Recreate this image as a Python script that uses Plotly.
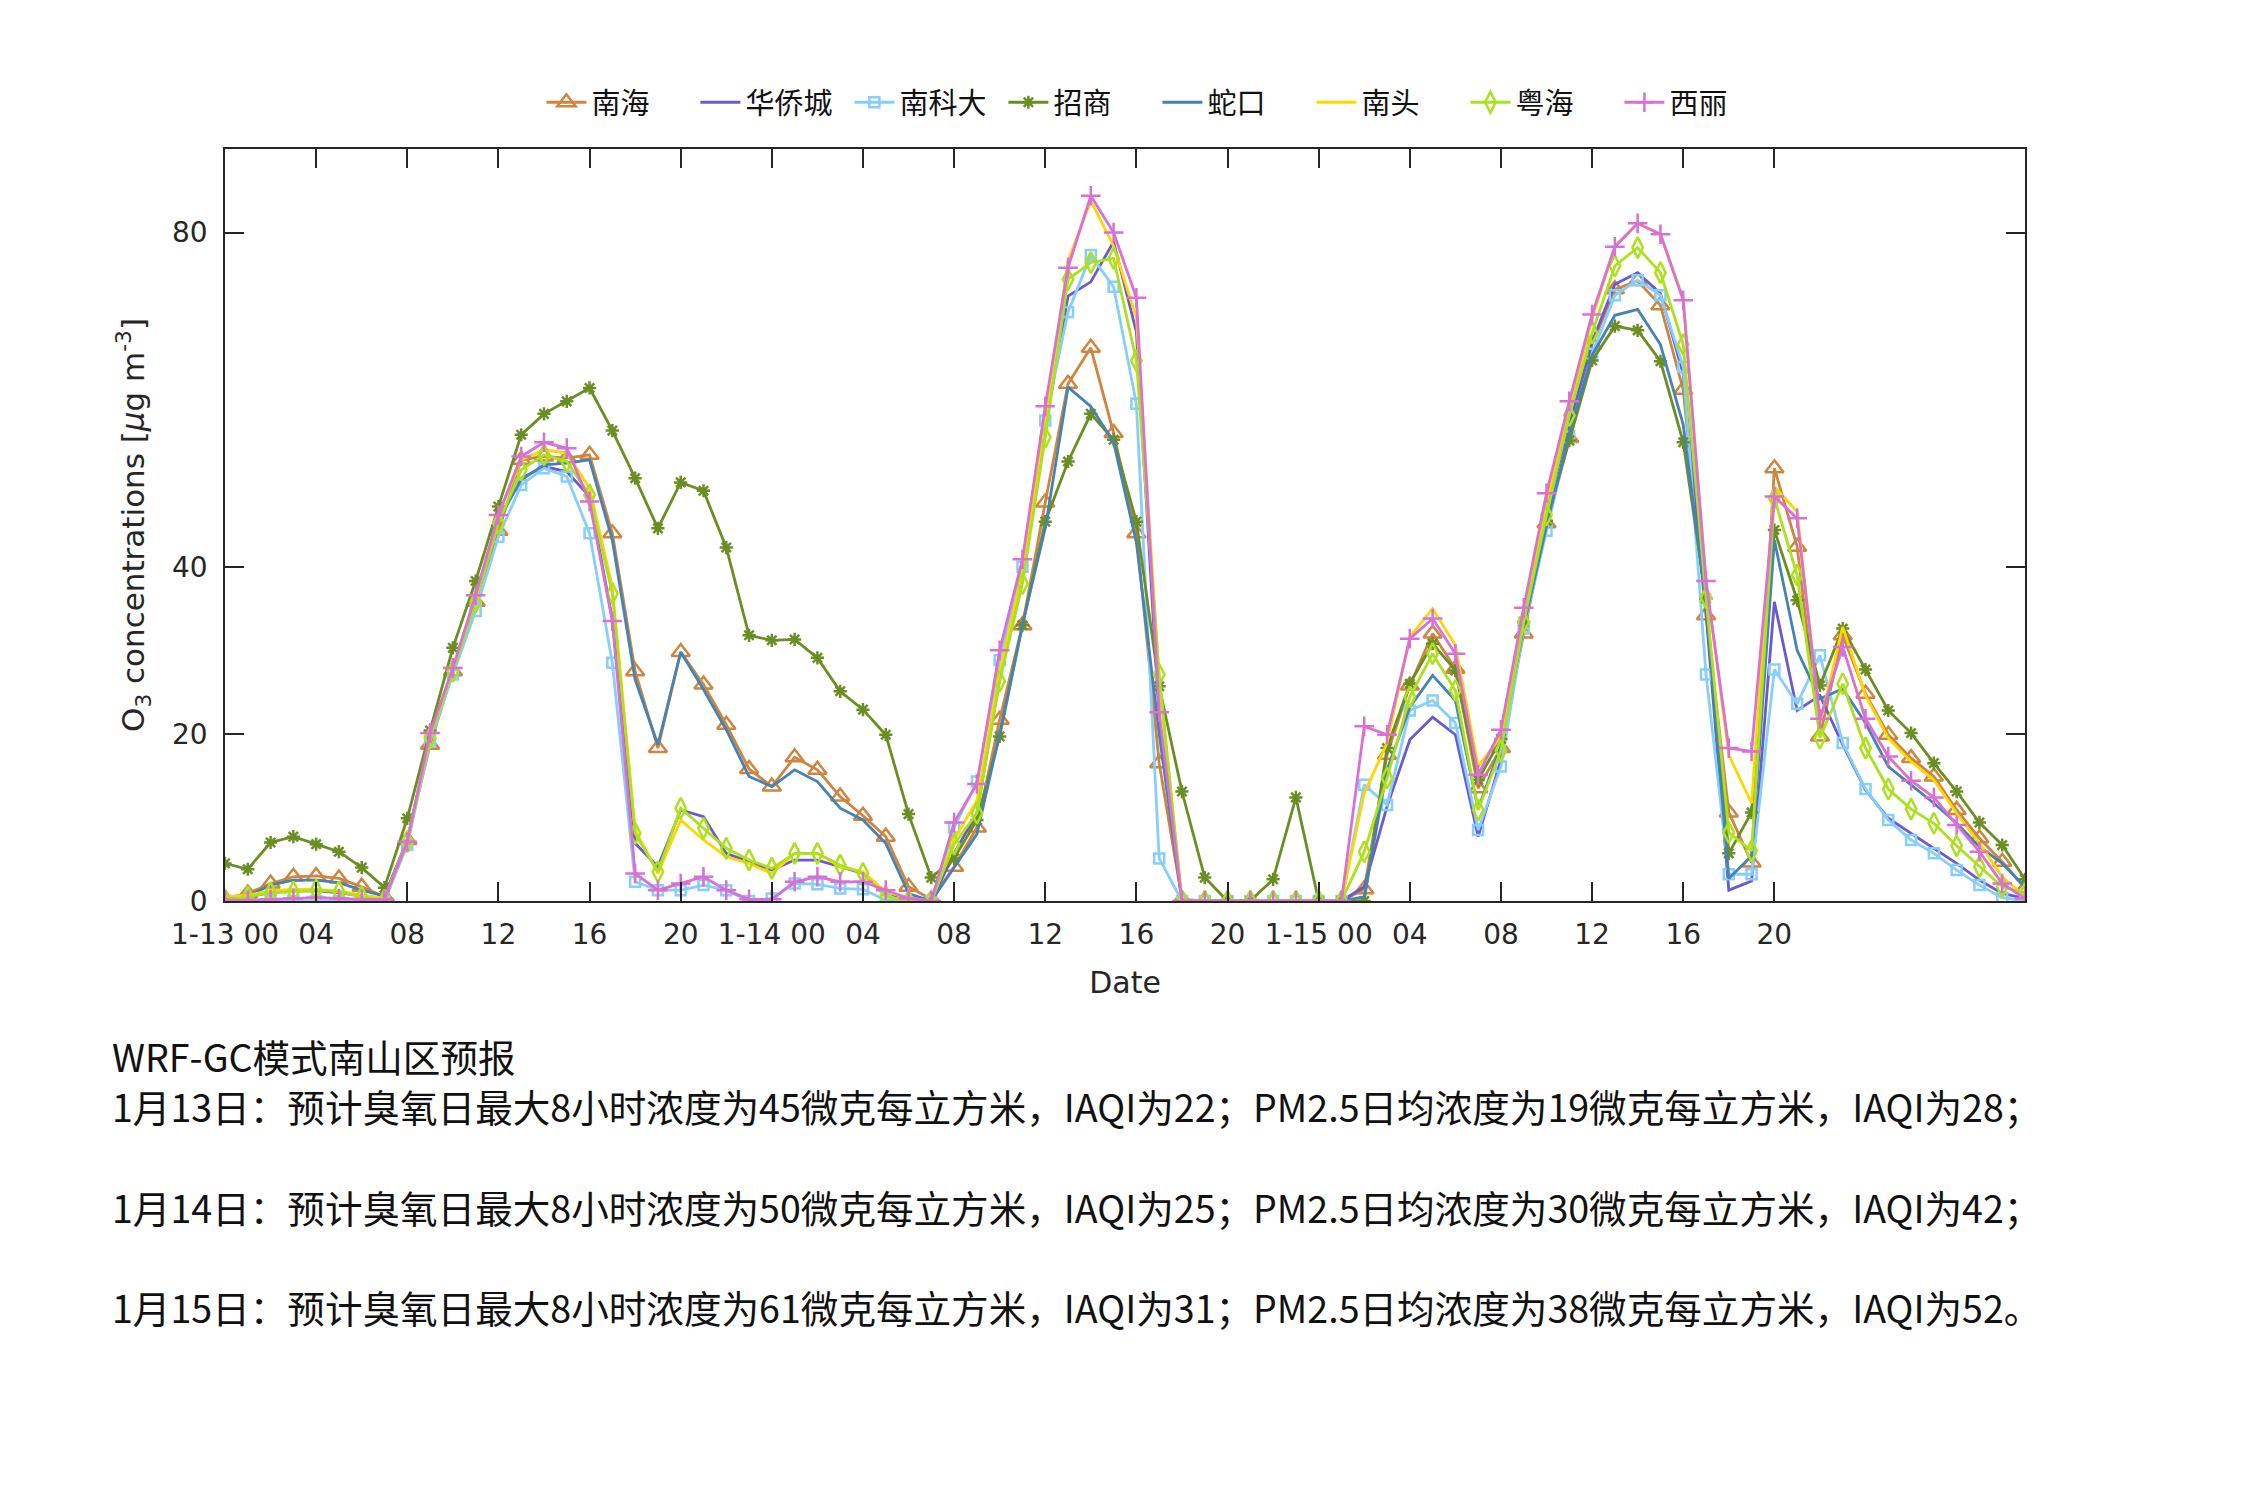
import plotly.graph_objects as go

# hours since 1-13 00:00 (hourly model output)
hours = list(range(80))

tick_hours = [0, 4, 8, 12, 16, 20, 24, 28, 32, 36, 40, 44, 48, 52, 56, 60, 64, 68]
tick_labels = ["1-13 00", "04", "08", "12", "16", "20",
               "1-14 00", "04", "08", "12", "16", "20",
               "1-15 00", "04", "08", "12", "16", "20"]
y_ticks = [0, 20, 40, 80]

station_names = ["南海", "华侨城", "南科大", "招商", "蛇口", "南头", "粤海", "西丽"]

nanhai = [
    0.3, 0.9, 2.1, 2.9, 3.0, 2.7, 1.7, 0.5,
    7.3, 18.7, 27.5, 35.8, 44.3, 52.8, 53.2, 53.0,
    53.4, 44.0, 27.5, 18.3, 29.8, 25.9, 21.1, 15.8,
    13.7, 17.2, 15.7, 12.5, 10.2, 7.7, 1.7, 0.2,
    4.1, 8.8, 21.7, 33.0, 47.7, 61.9, 66.2, 56.0,
    44.0, 16.5, 0.2, 0.0, 0.0, 0.0, 0.0, 0.0,
    0.0, 0.0, 1.4, 17.5, 25.8, 32.0, 27.8, 13.5,
    18.3, 32.0, 45.2, 55.4, 66.6, 73.2, 74.2, 71.3,
    61.2, 34.2, 10.6, 4.6, 51.8, 42.4, 19.7, 31.8,
    24.8, 19.9, 17.1, 14.9, 10.9, 7.5, 4.7, 1.5]

huaqiaocheng = [
    0.3, 0.5, 1.0, 1.2, 1.2, 1.0, 0.6, 0.3,
    7.0, 19.5, 27.5, 36.0, 45.6, 50.6, 52.0, 51.4,
    48.4, 33.7, 6.9, 4.1, 10.9, 10.1, 5.7, 4.7,
    3.7, 4.9, 4.9, 4.1, 3.3, 0.9, 0.3, 0.0,
    5.7, 10.5, 26.8, 39.0, 56.6, 72.4, 74.1, 78.9,
    68.1, 21.7, 0.0, 0.0, 0.0, 0.0, 0.0, 0.0,
    0.0, 0.0, 1.7, 11.3, 19.3, 22.0, 19.9, 7.7,
    16.9, 33.1, 46.6, 57.0, 66.9, 73.8, 75.2, 72.7,
    63.1, 34.5, 1.3, 2.4, 35.8, 22.8, 24.6, 18.7,
    13.3, 9.9, 8.1, 6.3, 4.5, 2.5, 0.9, 0.3]

nankeda = [
    0.1, 0.1, 0.1, 0.0, 0.0, 0.0, 0.0, 0.0,
    6.7, 19.1, 27.1, 34.7, 43.6, 49.8, 51.8, 50.8,
    44.0, 28.5, 2.3, 1.3, 1.3, 1.9, 1.3, 0.0,
    0.3, 2.1, 2.0, 1.5, 1.4, 0.1, 0.0, 0.0,
    8.8, 14.3, 28.8, 40.0, 57.5, 70.5, 77.3, 73.5,
    59.5, 5.1, 0.0, 0.0, 0.0, 0.0, 0.0, 0.0,
    0.0, 0.0, 13.9, 11.5, 22.8, 24.0, 21.3, 8.5,
    16.1, 32.6, 44.3, 55.6, 65.5, 72.5, 74.3, 72.5,
    63.9, 27.1, 3.2, 3.2, 27.7, 23.6, 29.4, 18.9,
    13.4, 9.7, 7.3, 5.7, 3.7, 1.9, 0.4, 0.0]

zhaoshang = [
    4.5, 3.8, 7.0, 7.7, 6.8, 5.9, 4.0, 1.6,
    9.9, 20.4, 30.3, 38.3, 47.2, 55.8, 58.3, 59.8,
    61.4, 56.3, 50.6, 44.6, 50.1, 49.1, 42.3, 31.8,
    31.2, 31.3, 29.1, 25.1, 22.9, 19.9, 10.4, 2.8,
    5.1, 9.7, 19.7, 33.0, 45.4, 52.6, 58.3, 55.2,
    45.4, 25.7, 13.1, 2.8, 0.0, 0.0, 2.6, 12.4,
    0.0, 0.0, 0.0, 18.3, 26.0, 30.8, 27.6, 14.5,
    19.4, 33.4, 45.5, 55.1, 64.7, 68.8, 68.3, 64.6,
    54.9, 36.2, 5.7, 10.6, 44.4, 36.0, 25.8, 32.6,
    27.7, 22.8, 20.1, 16.5, 13.1, 9.4, 6.7, 2.6]

shekou = [
    0.2, 0.6, 1.9, 2.5, 2.5, 2.2, 1.3, 0.6,
    7.3, 19.7, 27.7, 36.0, 45.6, 50.4, 52.2, 52.4,
    52.8, 43.2, 26.5, 18.7, 29.8, 25.3, 20.5, 14.9,
    13.7, 15.7, 14.3, 11.1, 9.7, 6.9, 0.9, 0.0,
    4.0, 8.0, 20.0, 33.1, 44.6, 61.5, 59.2, 54.9,
    42.9, 20.0, 0.0, 0.0, 0.0, 0.0, 0.0, 0.0,
    0.0, 0.0, 0.5, 15.7, 23.2, 27.0, 24.0, 11.0,
    18.6, 32.9, 44.9, 56.0, 65.3, 70.1, 70.8, 66.6,
    57.0, 35.6, 2.7, 5.4, 43.2, 30.0, 24.2, 25.4,
    21.3, 16.1, 13.9, 11.7, 9.3, 6.5, 4.5, 1.7]

nantou = [
    0.5, 0.7, 1.2, 1.4, 1.4, 1.2, 0.7, 0.3,
    7.2, 19.6, 27.8, 36.4, 46.2, 52.8, 54.0, 53.6,
    49.4, 37.6, 8.5, 3.3, 9.7, 7.3, 5.3, 4.5,
    3.3, 5.7, 5.7, 4.1, 3.5, 1.1, 0.3, 0.0,
    7.4, 12.0, 27.4, 39.4, 57.8, 76.6, 83.8, 78.4,
    69.8, 26.5, 0.0, 0.0, 0.0, 0.0, 0.0, 0.0,
    0.0, 0.0, 12.9, 18.9, 31.6, 35.0, 30.6, 16.1,
    19.7, 34.2, 47.7, 58.7, 69.7, 78.4, 81.1, 79.8,
    72.1, 38.4, 17.5, 11.7, 49.6, 46.6, 21.3, 32.8,
    24.6, 19.5, 16.7, 14.5, 10.5, 6.9, 2.9, 0.5]

yuehai = [
    0.1, 0.5, 1.0, 1.1, 1.3, 1.1, 0.5, 0.1,
    7.1, 19.5, 27.5, 35.8, 45.2, 51.6, 53.4, 52.6,
    48.6, 36.8, 8.1, 3.5, 11.1, 8.7, 6.3, 4.9,
    3.9, 5.7, 5.7, 4.3, 3.3, 0.5, 0.0, 0.0,
    6.8, 10.5, 26.3, 38.0, 55.5, 74.4, 76.4, 76.9,
    64.7, 27.1, 0.0, 0.0, 0.0, 0.0, 0.0, 0.0,
    0.0, 0.0, 5.9, 14.7, 24.4, 29.6, 25.2, 10.9,
    18.0, 33.4, 46.2, 58.1, 68.0, 76.0, 78.2, 75.2,
    66.6, 36.3, 8.2, 6.0, 48.2, 39.0, 19.5, 26.0,
    18.3, 13.4, 11.0, 9.3, 6.6, 4.1, 1.7, 0.9]

xili = [
    0.1, 0.1, 0.2, 0.3, 0.4, 0.3, 0.2, 0.2,
    7.1, 20.1, 27.9, 36.6, 46.2, 53.2, 54.9, 54.2,
    47.8, 33.5, 3.3, 1.3, 2.1, 2.9, 1.3, 0.2,
    0.2, 2.3, 2.9, 2.3, 2.3, 1.3, 0.3, 0.0,
    9.4, 14.0, 30.0, 40.9, 59.2, 75.8, 84.4, 80.0,
    72.2, 22.6, 0.0, 0.0, 0.0, 0.0, 0.0, 0.0,
    0.0, 0.0, 20.9, 19.9, 31.4, 33.8, 29.6, 15.1,
    20.5, 35.1, 48.8, 59.8, 70.2, 78.3, 81.1, 79.8,
    71.9, 38.3, 18.3, 17.9, 48.4, 45.8, 21.8, 30.4,
    21.8, 17.3, 14.4, 12.4, 9.1, 5.9, 2.1, 0.3]

summary_title = "WRF-GC模式南山区预报"
summary_lines = [
    "1月13日：预计臭氧日最大8小时浓度为45微克每立方米，IAQI为22；PM2.5日均浓度为19微克每立方米，IAQI为28；",
    "1月14日：预计臭氧日最大8小时浓度为50微克每立方米，IAQI为25；PM2.5日均浓度为30微克每立方米，IAQI为42；",
    "1月15日：预计臭氧日最大8小时浓度为61微克每立方米，IAQI为31；PM2.5日均浓度为38微克每立方米，IAQI为52。",
]

series = [nanhai, huaqiaocheng, nankeda, zhaoshang, shekou, nantou, yuehai, xili]
colors = ["#CD853F", "#6A5ACD", "#87CEFA", "#6B8E23", "#4682B4", "#FFD700", "#ADE01E", "#DA70D6"]
symbols = ["triangle-up-open", None, "square-open", "asterisk-open", None, None,
           "diamond-tall-open", "cross-thin-open"]
sizes = [16, 0, 10, 11, 0, 0, 15, 14]

AX = "#262626"
TICK_FONT = dict(family="DejaVu Sans", size=28, color=AX)
CJK = "Noto Sans CJK SC"

fig = go.Figure()
for name, vals, col, sym, sz in zip(station_names, series, colors, symbols, sizes):
    if sym is None:
        mode = "lines"
        marker = dict()
    else:
        mode = "lines+markers"
        marker = dict(symbol=sym, size=sz, color=col, line=dict(color=col, width=2.5))
    fig.add_trace(go.Scatter(
        x=hours, y=vals, name=name, mode=mode,
        line=dict(color=col, width=2.8), marker=marker,
    ))

fig.update_layout(
    width=2250, height=1500,
    paper_bgcolor="white", plot_bgcolor="white",
    margin=dict(l=225, r=225, t=149, b=599, pad=0),
    showlegend=True,
    legend=dict(
        orientation="h", x=0.518, xanchor="center", y=1.062, yanchor="middle",
        font=dict(family=CJK, size=29, color="#111111"),
        entrywidth=99, entrywidthmode="pixels", itemwidth=40,
        bgcolor="rgba(0,0,0,0)", traceorder="normal",
    ),
    font=dict(family=CJK, color=AX),
)

fig.update_xaxes(
    range=[0, 79], tickmode="array", tickvals=tick_hours, ticktext=tick_labels,
    showgrid=False, zeroline=False, showline=True, linecolor=AX, linewidth=1.6,
    mirror="allticks", ticks="inside", ticklen=19, tickwidth=1.6, tickcolor=AX,
    tickfont=TICK_FONT, ticklabelstandoff=8,
    title=dict(text="Date", font=dict(family="DejaVu Sans", size=30, color=AX), standoff=22),
)
fig.update_yaxes(
    range=[0, 90], tickmode="array", tickvals=y_ticks,
    showgrid=False, zeroline=False, showline=True, linecolor=AX, linewidth=1.6,
    mirror="allticks", ticks="inside", ticklen=19, tickwidth=1.6, tickcolor=AX,
    tickfont=TICK_FONT, ticklabelstandoff=10,
    title=dict(text="O<sub>3</sub> concentrations [<i>μ</i>g m<sup>-3</sup>]",
               font=dict(family="DejaVu Sans", size=31, color=AX), standoff=18),
)

# summary text below the chart (paper coordinates relative to the plot area)
text_font = dict(family=CJK, size=37.6, color="#111111")
ys = [-0.206, -0.2725, -0.4067, -0.5396]
for txt, yy in zip([summary_title] + summary_lines, ys):
    fig.add_annotation(
        text=txt, xref="paper", yref="paper", x=-0.064, y=yy,
        xanchor="left", yanchor="middle", showarrow=False, font=text_font,
    )

fig.write_html("out.html")
